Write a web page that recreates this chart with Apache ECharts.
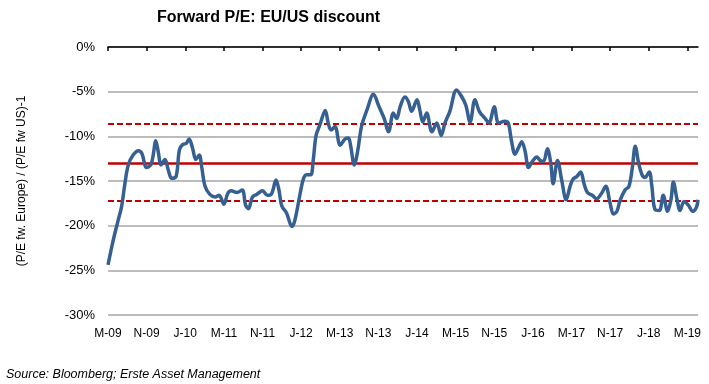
<!DOCTYPE html>
<html>
<head>
<meta charset="utf-8">
<script src="https://cdn.jsdelivr.net/npm/echarts@6/dist/echarts.min.js"></script>
<style>
html,body{margin:0;padding:0;background:#fff;}
#c{width:709px;height:384px;}
</style>
</head>
<body>
<div id="c"></div>
<script>
// months since Mar-2009
const months = [0.0,1.1,2.1,2.8,3.5,4.2,5.2,6.3,7.0,8.0,8.85,9.3,9.9,10.4,11.0,11.8,12.5,13.2,14.1,14.8,15.5,16.2,16.8,17.5,18.2,18.9,19.4,20.1,21.1,22.2,23.0,24.0,24.8,25.5,26.7,27.8,28.5,29.1,29.9,30.8,32.0,33.0,33.9,34.8,35.4,36.0,37.0,38.1,38.7,39.8,40.5,41.2,42.0,42.5,43.1,43.9,45.0,45.6,46.2,47.0,48.1,49.1,49.8,50.3,51.0,51.7,52.5,53.6,55.0,56.0,57.2,58.1,59.1,59.8,60.5,61.5,62.2,62.9,64.0,64.6,65.2,66.0,67.1,68.1,69.0,69.8,70.8,72.2,73.3,74.1,75.0,76.0,76.9,78.1,78.9,80.0,80.9,82.2,82.9,83.6,84.3,85.0,85.7,86.4,87.1,87.9,88.8,89.5,90.2,91.0,91.7,92.2,93.1,94.0,94.9,95.7,96.3,97.1,97.9,98.6,99.3,100.3,101.2,102.2,103.1,104.0,104.7,105.4,106.1,107.1,107.9,108.6,109.2,109.9,110.6,111.2,112.1,112.6,113.3,114.2,115.0,115.9,116.6,117.1,117.8,118.5,119.3,120.2,121.1,121.9,122.2];
const discount = [-24.4,-21.6,-19.4,-17.9,-15.3,-13.2,-12.1,-11.6,-11.9,-13.5,-13.2,-12.3,-10.5,-11.7,-13.2,-12.6,-13.8,-14.7,-14.5,-11.5,-10.9,-10.8,-10.3,-11.3,-12.6,-12.1,-13.4,-15.6,-16.5,-16.8,-16.6,-17.6,-16.4,-16.1,-16.3,-16.0,-17.7,-18.1,-16.8,-16.5,-16.1,-16.6,-16.4,-14.9,-16.0,-17.8,-18.6,-20.1,-19.4,-16.4,-14.7,-14.3,-14.3,-12.7,-9.9,-8.7,-7.1,-8.5,-9.3,-8.9,-11.0,-10.3,-10.2,-11.2,-13.2,-11.7,-8.9,-7.1,-5.3,-6.5,-8.0,-9.5,-7.4,-8.0,-6.7,-5.6,-6.1,-7.2,-5.9,-7.1,-8.4,-7.4,-9.5,-8.5,-9.9,-8.5,-7.2,-4.8,-5.6,-6.5,-8.4,-5.9,-7.2,-8.0,-8.5,-6.7,-8.5,-8.3,-8.5,-10.6,-12.0,-11.3,-10.6,-11.7,-13.5,-12.8,-12.3,-12.7,-12.8,-11.4,-13.0,-15.3,-12.7,-15.0,-17.1,-15.6,-14.8,-14.5,-14.0,-15.3,-16.3,-16.6,-17.0,-16.4,-15.6,-17.5,-18.7,-18.4,-17.1,-16.0,-15.6,-13.5,-11.1,-13.0,-14.3,-14.6,-14.0,-15.4,-18.2,-18.3,-16.6,-18.4,-17.1,-15.1,-16.9,-18.3,-17.3,-17.7,-18.4,-17.9,-17.1];
const tickLabels = ['M-09','N-09','J-10','M-11','N-11','J-12','M-13','N-13','J-14','M-15','N-15','J-16','M-17','N-17','J-18','M-19'];
const tickMonths = [0,8,16,24,32,40,48,56,64,72,80,88,96,104,112,120];
const meanLevel = -13.0;
const bandLevels = [-8.6, -17.2];

const FONT = 'Liberation Sans, Arial, sans-serif';
const chart = echarts.init(document.getElementById('c'), null, {renderer: 'canvas'});
const pts = months.map((m, i) => [m, discount[i]]);
const xMax = 122.2;

chart.setOption({
  animation: false,
  backgroundColor: '#fff',
  title: {
    text: 'Forward P/E: EU/US discount',
    left: 152, top: 5,
    textStyle: {fontFamily: FONT, fontSize: 16, fontWeight: 'bold', color: '#000'}
  },
  graphic: [{
    type: 'text', left: 6, top: 368,
    style: {text: 'Source: Bloomberg; Erste Asset Management', font: 'italic 12.5px ' + FONT, fill: '#000'}
  }],
  grid: {left: 108, right: 11, top: 47, bottom: 69},
  xAxis: [{
    type: 'value', min: 0, max: xMax, position: 'bottom',
    axisLine: {show: false}, axisTick: {show: false}, splitLine: {show: false},
    axisLabel: {
      customValues: tickMonths, margin: 13,
      fontFamily: FONT, fontSize: 12, color: '#000',
      formatter: v => { const i = tickMonths.indexOf(Math.round(v)); return i >= 0 ? tickLabels[i] : ''; }
    }
  }, {
    type: 'value', min: 0, max: xMax, position: 'top',
    axisLine: {show: true, onZero: false, lineStyle: {color: '#000', width: 1.5}},
    axisTick: {show: true, inside: true, length: 4, customValues: tickMonths, lineStyle: {color: '#000', width: 1.5}},
    axisLabel: {show: false}, splitLine: {show: false}
  }],
  yAxis: {
    type: 'value', min: -30, max: 0, interval: 5,
    name: '(P/E fw. Europe) / (P/E fw US)-1', nameLocation: 'middle', nameGap: 80, nameRotate: 90,
    nameTextStyle: {fontFamily: FONT, fontSize: 12, color: '#000'},
    axisLine: {show: false}, axisTick: {show: false},
    axisLabel: {fontFamily: FONT, fontSize: 13, color: '#000', margin: 13, formatter: v => v + '%'},
    splitLine: {show: true, lineStyle: {color: '#a6a6a6', width: 1.5}}
  },
  series: [{
    type: 'line', xAxisIndex: 0, data: pts, showSymbol: false, smooth: 0.35,
    lineStyle: {color: '#376092', width: 3.5}, z: 5,
    markLine: {
      silent: true, symbol: 'none', label: {show: false},
      data: [
        {yAxis: meanLevel, lineStyle: {color: '#c00000', width: 2.5, type: 'solid'}},
        {yAxis: bandLevels[0], lineStyle: {color: '#c00000', width: 2.2, type: [6, 3]}},
        {yAxis: bandLevels[1], lineStyle: {color: '#c00000', width: 2.2, type: [6, 3]}}
      ]
    }
  }]
});
</script>
</body>
</html>
